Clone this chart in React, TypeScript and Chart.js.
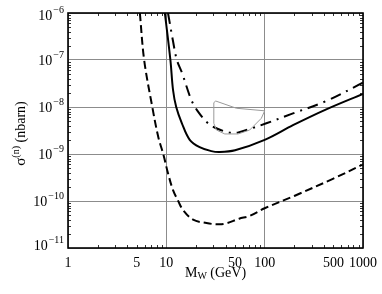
import React, { useEffect, useRef } from "react";
import { Chart, registerables } from "chart.js";

Chart.register(...registerables);

// Axis ranges and tick labels
const xMin = 1;
const xMax = 1000;
const yMin = 1e-11;
const yMax = 1e-6;
const xTickValues = [1, 5, 10, 50, 100, 500, 1000];
const xTickLabels = ["1", "5", "10", "50", "100", "500", "1000"];
const yTickExponents = [-11, -10, -9, -8, -7, -6];

// Solid curve
const solidX = [9.66, 11.0, 11.7, 12.6, 14.4, 17.3, 21.8, 28.7, 34.9, 50, 100, 194, 423, 1000];
const solidY = [1e-6, 1e-7, 2.3e-8, 1e-8, 4.5e-9, 2e-9, 1.4e-9, 1.15e-9, 1.1e-9, 1.2e-9, 2e-9, 4.1e-9, 8.9e-9, 1.9e-8];

// Long-dashed curve
const dashedX = [5.38, 5.95, 7.2, 8.28, 9.3, 10.4, 11.7, 13.2, 14.8, 18.7, 25.6, 32.3, 40, 55, 70, 100, 200, 500, 1000];
const dashedY = [1e-6, 1e-7, 1e-8, 2.3e-9, 1e-9, 3.9e-10, 1.7e-10, 1e-10, 6.4e-11, 4.0e-11, 3.4e-11, 3.2e-11, 3.3e-11, 4.2e-11, 4.8e-11, 7e-11, 1.28e-10, 3.0e-10, 6e-10];

// Dash-dot curve
const dashDotX = [10.4, 11.7, 12.8, 14.4, 18.0, 21.1, 26.6, 33.6, 44, 53, 73, 104, 194, 423, 1000];
const dashDotY = [1e-6, 2.5e-7, 1e-7, 5.4e-8, 1.4e-8, 7.9e-9, 4.5e-9, 3.4e-9, 2.85e-9, 2.85e-9, 3.5e-9, 4.5e-9, 7.3e-9, 1.34e-8, 3.3e-8];

// Thin grey region outline
const regionX = [30.4, 31.8, 51.6, 100, 92.5, 70.4, 53.6, 39.3, 32.3, 30.4, 30.4];
const regionY = [1.24e-8, 1.34e-8, 9.4e-9, 8.3e-9, 5.75e-9, 3.24e-9, 2.67e-9, 2.67e-9, 3.24e-9, 4.5e-9, 1.24e-8];

const FONT = '"Liberation Serif", "Times New Roman", "DejaVu Serif", serif';

const toPts = (xs: number[], ys: number[]) => xs.map((x, i) => ({ x, y: ys[i] }));
const isDecade = (v: number) =>
  v > 0 && Math.abs(Math.log10(v) - Math.round(Math.log10(v))) < 1e-6;

export default function App() {
  const ref = useRef<HTMLCanvasElement>(null);

  useEffect(() => {
    const canvas = ref.current;
    if (!canvas) return;

    const frame = {
      id: "frame",
      afterDraw(chart: any) {
        const { ctx, chartArea: a, scales } = chart;
        const xs = scales.x;
        const ys = scales.y;
        ctx.save();

        // minor ticks, inward on all four sides
        ctx.strokeStyle = "#333";
        ctx.lineWidth = 1;
        ctx.beginPath();
        for (let e = 0; e < 3; e++) {
          for (let m = 2; m <= 9; m++) {
            const px = Math.round(xs.getPixelForValue(m * Math.pow(10, e))) + 0.5;
            ctx.moveTo(px, a.bottom);
            ctx.lineTo(px, a.bottom - 3);
            ctx.moveTo(px, a.top);
            ctx.lineTo(px, a.top + 3);
          }
        }
        for (let e = -11; e < -6; e++) {
          for (let m = 2; m <= 9; m++) {
            const py = Math.round(ys.getPixelForValue(m * Math.pow(10, e))) + 0.5;
            ctx.moveTo(a.left, py);
            ctx.lineTo(a.left + 3, py);
            ctx.moveTo(a.right, py);
            ctx.lineTo(a.right - 3, py);
          }
        }
        ctx.stroke();

        // frame
        ctx.strokeStyle = "#000";
        ctx.lineWidth = 1.6;
        ctx.strokeRect(a.left, a.top, a.right - a.left, a.bottom - a.top);

        ctx.fillStyle = "#000";
        ctx.textBaseline = "alphabetic";

        // y tick labels 10^e
        const rightX = a.left - 4;
        yTickExponents.forEach((e) => {
          const py = ys.getPixelForValue(Math.pow(10, e));
          let base = py + 5;
          if (base < 20) base = 20;
          if (base > 250) base = 250;
          const expStr = "\u2212" + String(-e);
          ctx.font = `14px ${FONT}`;
          const w10 = ctx.measureText("10").width;
          ctx.font = `10px ${FONT}`;
          const we = ctx.measureText(expStr).width;
          const start = rightX - (w10 + we + 1);
          ctx.font = `14px ${FONT}`;
          ctx.textAlign = "left";
          ctx.fillText("10", start, base);
          ctx.font = `10px ${FONT}`;
          ctx.fillText(expStr, start + w10 + 1, base - 7.5);
        });

        // x tick labels
        ctx.font = `14px ${FONT}`;
        ctx.textAlign = "center";
        xTickValues.forEach((v, i) => {
          const px = xs.getPixelForValue(v);
          ctx.fillText(xTickLabels[i], px, a.bottom + 19);
        });

        // x title: M_W (GeV)
        {
          ctx.textAlign = "left";
          ctx.font = `14px ${FONT}`;
          const wM = ctx.measureText("M").width;
          const wRest = ctx.measureText(" (GeV)").width;
          ctx.font = `10px ${FONT}`;
          const wW = ctx.measureText("W").width;
          const total = wM + wW + wRest;
          const cx = (a.left + a.right) / 2;
          let sx = cx - total / 2;
          const base = a.bottom + 29;
          ctx.font = `14px ${FONT}`;
          ctx.fillText("M", sx, base);
          sx += wM;
          ctx.font = `10px ${FONT}`;
          ctx.fillText("W", sx, base + 2);
          sx += wW;
          ctx.font = `14px ${FONT}`;
          ctx.fillText(" (GeV)", sx, base);
        }

        // y title: sigma^(n) (nbarn)
        {
          ctx.translate(25, (a.top + a.bottom) / 2 + 3);
          ctx.rotate(-Math.PI / 2);
          ctx.textAlign = "left";
          ctx.font = `15px ${FONT}`;
          const wS = ctx.measureText("\u03c3").width;
          ctx.font = `10px ${FONT}`;
          const wN = ctx.measureText("(n)").width;
          ctx.font = `14px ${FONT}`;
          const wR = ctx.measureText(" (nbarn)").width;
          const total = wS + wN + wR;
          let sx = -total / 2;
          ctx.font = `15px ${FONT}`;
          ctx.fillText("\u03c3", sx, 0);
          sx += wS;
          ctx.font = `10px ${FONT}`;
          ctx.fillText("(n)", sx, -6);
          sx += wN;
          ctx.font = `14px ${FONT}`;
          ctx.fillText(" (nbarn)", sx, 0);
        }

        ctx.restore();
      },
    };

    const gridColor = (c: any) =>
      c.tick && isDecade(c.tick.value) ? "#8c8c8c" : "rgba(0,0,0,0)";

    const curve = {
      showLine: true,
      borderColor: "#000",
      borderWidth: 2,
      pointRadius: 0,
      tension: 0.35,
      fill: false,
      borderCapStyle: "butt",
      borderJoinStyle: "round",
    };

    const chart = new Chart(canvas, {
      type: "scatter",
      data: {
        datasets: [
          {
            data: toPts(regionX, regionY),
            showLine: true,
            borderColor: "#9a9a9a",
            borderWidth: 1,
            pointRadius: 0,
            tension: 0,
            fill: false,
          },
          { ...curve, data: toPts(solidX, solidY) },
          { ...curve, data: toPts(dashedX, dashedY), borderDash: [8, 4] },
          { ...curve, data: toPts(dashDotX, dashDotY), borderDash: [11, 6, 2, 6] },
        ],
      },
      options: {
        responsive: false,
        animation: false,
        devicePixelRatio: 1,
        layout: { padding: { left: 68, top: 13, right: 19, bottom: 46 } },
        plugins: { legend: { display: false }, tooltip: { enabled: false } },
        scales: {
          x: {
            type: "logarithmic",
            min: xMin,
            max: xMax,
            ticks: { display: false },
            grid: { color: gridColor, drawTicks: false, lineWidth: 1 },
            border: { display: false },
          },
          y: {
            type: "logarithmic",
            min: yMin,
            max: yMax,
            ticks: { display: false },
            grid: { color: gridColor, drawTicks: false, lineWidth: 1 },
            border: { display: false },
          },
        },
      },
      plugins: [frame],
    } as any);

    return () => chart.destroy();
  }, []);

  return (
    <div style={{ position: "absolute", left: 0, top: 0, width: 382, height: 294, background: "#fff" }}>
      <canvas ref={ref} width={382} height={294} style={{ display: "block" }} />
    </div>
  );
}
